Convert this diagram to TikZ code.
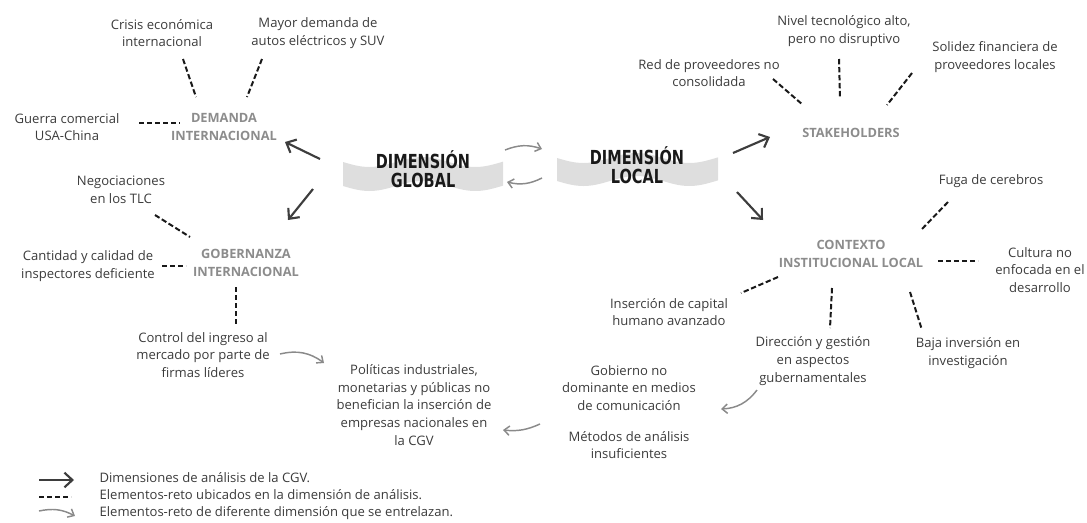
\documentclass[tikz,border=0pt]{standalone}
\usepackage{fontspec}
\setmainfont{Open Sans}
\newfontfamily\titlefont[FakeStretch=0.75]{DejaVu Sans}
\usetikzlibrary{arrows.meta}

\definecolor{txtgris}{HTML}{3B3B3B}
\definecolor{ejegris}{HTML}{8C8C8C}
\definecolor{flecha}{HTML}{3D3D3D}
\definecolor{enlacegris}{HTML}{8A8A8A}
\definecolor{banda}{HTML}{DEDEDE}

\tikzset{
  texto/.style={font=\fontsize{9.8}{13.3}\selectfont, text=txtgris, align=center, inner sep=1pt},
  eje/.style={font=\fontsize{9.6}{13.5}\selectfont\bfseries, text=ejegris, align=center, inner sep=1pt},
  titulo/.style={font=\titlefont\bfseries\fontsize{14.5}{14.5}\selectfont, text=black!90, align=center, inner sep=0pt},
  dimension/.style={draw=flecha, line width=1.6pt, -{Straight Barb[length=6pt,width=11pt]}},
  reto/.style={draw=black!90, line width=1.5pt, dash pattern=on 4pt off 2pt},
  enlace/.style={draw=enlacegris, line width=1.1pt, -{Straight Barb[length=4pt,width=7pt]}},
}

\begin{document}
\begin{tikzpicture}[x=0.75pt, y=-0.75pt]
                        \useasboundingbox (0,0) rectangle (1087,522);

                        % bandas
                        \fill[banda] plot[domain=343:503, samples=50] (\x, {162+5*sin((\x-343)*3.4)})
                          -- plot[domain=503:343, samples=50] (\x, {186+5*sin((\x-343)*3.4)}) -- cycle;
                        \fill[banda] plot[domain=557:718, samples=50] (\x, {158+5*sin((\x-557)*3.4)})
                          -- plot[domain=718:557, samples=50] (\x, {181+5*sin((\x-557)*3.4)}) -- cycle;

                        \node[titulo] (global) at (423,169) {DIMENSIÓN\\GLOBAL};
                        \node[titulo] (local) at (637,165) {DIMENSIÓN\\LOCAL};

                        % dimension global
                        \node[eje] (demanda) at (224,127) {DEMANDA\\INTERNACIONAL};
                        \node[eje] (gober) at (246,263) {GOBERNANZA\\INTERNACIONAL};
                        \node[texto] (crisis) at (162,33) {Crisis económica\\internacional};
                        \node[texto] (mayor) at (318,33) {Mayor demanda de\\autos eléctricos y SUV};
                        \node[texto] (guerra) at (67,127) {Guerra comercial\\USA-China};
                        \node[texto] (negoc) at (121,190) {Negociaciones\\en los TLC};
                        \node[texto] (cantidad) at (88,266) {Cantidad y calidad de\\inspectores deficiente};
                        \node[texto] (control) at (203,355) {Control del ingreso al\\mercado por parte de\\firmas líderes};
                        \node[texto] (politicas) at (414,405) {Políticas industriales,\\monetarias y públicas no\\benefician la inserción de\\empresas nacionales en\\la CGV};

                        % dimension local
                        \node[eje] (stake) at (851,133) {STAKEHOLDERS};
                        \node[eje] (contexto) at (851,254) {CONTEXTO\\INSTITUCIONAL LOCAL};
                        \node[texto] (red) at (709,73) {Red de proveedores no\\consolidada};
                        \node[texto] (nivel) at (844,31) {Nivel tecnológico alto,\\pero no disruptivo};
                        \node[texto] (solidez) at (995,57) {Solidez financiera de\\proveedores locales};
                        \node[texto] (fuga) at (991,181) {Fuga de cerebros};
                        \node[texto] (cultura) at (1040,270) {Cultura no\\enfocada en el\\desarrollo};
                        \node[texto] (insercion) at (669,312) {Inserción de capital\\humano avanzado};
                        \node[texto] (direccion) at (813,361) {Dirección y gestión\\en aspectos\\gubernamentales};
                        \node[texto] (baja) at (968,353) {Baja inversión en\\investigación};
                        \node[texto] (gobierno) at (629,388) {Gobierno no\\dominante en medios\\de comunicación};
                        \node[texto] (metodos) at (629,445) {Métodos de análisis\\insuficientes};

                        % flechas de dimension
                        \draw[dimension] ([shift={(-103,-10)}]global.center) -- ([shift={(61,15)}]demanda.center);
                        \draw[dimension] ([shift={(-110,20)}]global.center) -- ([shift={(42,-43)}]gober.center);
                        \draw[dimension] ([shift={(96,-12)}]local.center) -- ([shift={(-81,4)}]stake.center);
                        \draw[dimension] ([shift={(100,27)}]local.center) -- ([shift={(-88,-34)}]contexto.center);

                        % elementos-reto
                        \draw[reto] ([shift={(21,26)}]crisis.center) -- ([shift={(-28,-30)}]demanda.center);
                        \draw[reto] ([shift={(-56,26)}]mayor.center) -- ([shift={(23,-30)}]demanda.center);
                        \draw[reto] ([shift={(72,-4)}]guerra.center) -- ([shift={(-44,-4)}]demanda.center);
                        \draw[reto] ([shift={(34,25)}]negoc.center) -- ([shift={(-56,-26)}]gober.center);
                        \draw[reto] ([shift={(74,0)}]cantidad.center) -- ([shift={(-60,3)}]gober.center);
                        \draw[reto] ([shift={(-10,24)}]gober.center) -- ([shift={(33,-30)}]control.center);
                        \draw[reto] ([shift={(64,6)}]red.center) -- ([shift={(-48,-28)}]stake.center);
                        \draw[reto] ([shift={(-5,28)}]nivel.center) -- ([shift={(-11,-35)}]stake.center);
                        \draw[reto] ([shift={(-83,16)}]solidez.center) -- ([shift={(36,-28)}]stake.center);
                        \draw[reto] ([shift={(-43,21)}]fuga.center) -- ([shift={(70,-24)}]contexto.center);
                        \draw[reto] ([shift={(87,7)}]contexto.center) -- ([shift={(-62,-9)}]cultura.center);
                        \draw[reto] ([shift={(-73,23)}]contexto.center) -- ([shift={(72,-19)}]insercion.center);
                        \draw[reto] ([shift={(-19,34)}]contexto.center) -- ([shift={(17,-33)}]direccion.center);
                        \draw[reto] ([shift={(59,38)}]contexto.center) -- ([shift={(-46,-23)}]baja.center);

                        % enlaces entre dimensiones
                        \draw[enlace] ([shift={(82,-19)}]global.center) to[bend left=20] ([shift={(-95,-16)}]local.center);
                        \draw[enlace] ([shift={(-95,13)}]local.center) to[bend left=20] ([shift={(84,13)}]global.center);
                        \draw[enlace] ([shift={(77,-1)}]control.center) to[bend left=25] ([shift={(-90,-42)}]politicas.center);
                        \draw[enlace] ([shift={(-89,-21)}]metodos.center) to[bend left=15] ([shift={(89,25)}]politicas.center);
                        \draw[enlace] ([shift={(-56,29)}]direccion.center) to[bend left=25] ([shift={(92,21)}]gobierno.center);

                        % leyenda
                        \coordinate (la) at (39,480);
                        \coordinate (lb) at (74,480);
                        \coordinate (lc) at (39,497);
                        \coordinate (ld) at (71,497);
                        \coordinate (le) at (39,511);
                        \coordinate (lf) at (75,516);
                        \draw[dimension] (la) -- (lb);
                        \draw[reto] (lc) -- (ld);
                        \draw[enlace] (le) to[bend left=20] (lf);
                        \node[texto, anchor=west] (ley1) at (98,478) {Dimensiones de análisis de la CGV.};
                        \node[texto, anchor=west] (ley2) at (98,495) {Elementos-reto ubicados en la dimensión de análisis.};
                        \node[texto, anchor=west] (ley3) at (98,513) {Elementos-reto de diferente dimensión que se entrelazan.};
                    \end{tikzpicture}
\end{document}
